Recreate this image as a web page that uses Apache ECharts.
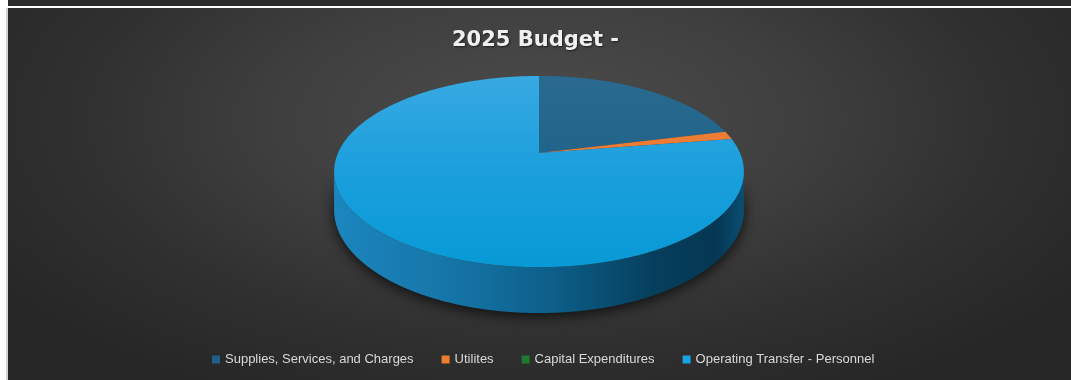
<!DOCTYPE html>
<html>
<head>
<meta charset="utf-8">
<title>2025 Budget</title>
<script src="https://cdn.jsdelivr.net/npm/echarts@6/dist/echarts.min.js"></script>
<style>
  html, body { margin: 0; padding: 0; background: #ffffff; }
  #wrap { position: relative; width: 1071px; height: 380px; overflow: hidden; background: #ffffff; }
  #strip { position: absolute; left: 8px; top: 0; width: 1063px; height: 6px; background: #2b2b2b; }
  #edge { position: absolute; left: 6px; top: 8px; width: 2px; height: 372px; background: #d4d4d4; }
  #panel {
    position: absolute; left: 8px; top: 8px; width: 1063px; height: 372px;
    background: radial-gradient(ellipse 62% 85% at 50% 30%, #4c4c4c 0%, #3f3f3f 40%, #303030 70%, #262626 100%);
  }
  #chart { position: absolute; left: 0; top: 0; width: 1071px; height: 380px; }
</style>
</head>
<body>
<div id="wrap">
  <div id="strip"></div>
  <div id="edge"></div>
  <div id="panel"></div>
  <div id="chart"></div>
</div>
<script>
// Budget categories and amounts for 2025
const categories = [
  'Supplies, Services, and Charges',
  'Utilites',
  'Capital Expenditures',
  'Operating Transfer - Personnel'
];
const budget2025 = [211000, 14000, 0, 775000];

// legend swatch colours per category
const swatchColors = ['#1f5f87', '#ed7d31', '#1e7a2d', '#1aa3e0'];

// ---- drawing styles (kept apart from the data) ----
const topFaceStops = [
  [{ offset: 0, color: '#2a6a91' }, { offset: 1, color: '#155a80' }],
  [{ offset: 0, color: '#ef7f38' }, { offset: 1, color: '#e8752c' }],
  [{ offset: 0, color: '#2e8a3a' }, { offset: 1, color: '#1e7a2d' }],
  [{ offset: 0, color: '#38a9e2' }, { offset: 0.5, color: '#1a9fdc' }, { offset: 1, color: '#089ad6' }]
];
const wallStops = [
  [{ offset: 0, color: '#153f5a' }, { offset: 1, color: '#0d3048' }],
  [{ offset: 0, color: '#a9541f' }, { offset: 1, color: '#8a4418' }],
  [{ offset: 0, color: '#155a20' }, { offset: 1, color: '#0f4818' }],
  [
    { offset: 0, color: '#1c86bf' },
    { offset: 0.3, color: '#1574a6' },
    { offset: 0.55, color: '#0c5c86' },
    { offset: 0.78, color: '#063f5d' },
    { offset: 0.93, color: '#053752' },
    { offset: 1, color: '#0b4e72' }
  ]
];

// tilted-disc projection: unit circle (u, v) -> screen, with perspective
const DISC = { A: 201, B: 92, p: 0.194, depth: 37 };
const PIE_CENTER = [539, 153];

const total = budget2025.reduce((s, v) => s + v, 0);
const cumStart = [];
let acc = 0;
budget2025.forEach(v => { cumStart.push(acc); acc += v; });

function makeRenderItem(idx) {
  return function (params, api) {
    const start = api.value(0);
    const end = api.value(1);
    if (!(end > start)) return { type: 'group', children: [] };
    const c0 = api.coord([0, 0]);
    const e0 = api.coord([1, 0]);
    const R = Math.hypot(e0[0] - c0[0], e0[1] - c0[1]);

    function unit(a) {
      const pt = api.coord([1, a]);
      return [(pt[0] - c0[0]) / R, (pt[1] - c0[1]) / R];
    }
    function proj(uv, drop) {
      const w = 1 - DISC.p * uv[1];
      return [c0[0] + DISC.A * uv[0] / w, c0[1] + (DISC.B * uv[1] + drop) / w];
    }

    const steps = Math.max(4, Math.ceil((end - start) / total * 360 * 4));
    const top = [[c0[0], c0[1]]];
    const wallTop = [];
    const wallBot = [];
    for (let i = 0; i <= steps; i++) {
      const a = start + (end - start) * i / steps;
      const uv = unit(a);
      top.push(proj(uv, 0));
      if (uv[1] >= DISC.p - 0.002) {
        wallTop.push(proj(uv, 0));
        wallBot.push(proj(uv, DISC.depth));
      }
    }

    const children = [];
    if (wallTop.length > 1) {
      children.push({
        type: 'polygon',
        z2: 1,
        shape: { points: wallTop.concat(wallBot.reverse()) },
        style: {
          fill: new echarts.graphic.LinearGradient(334, 0, 744, 0, wallStops[idx], true),
          shadowBlur: 14,
          shadowColor: 'rgba(0,0,0,0.75)',
          shadowOffsetY: 3
        }
      });
    }
    children.push({
      type: 'polygon',
      z2: 2,
      shape: { points: top },
      style: {
        fill: new echarts.graphic.LinearGradient(0, 76, 0, 268, topFaceStops[idx], true),
        stroke: null
      }
    });
    return { type: 'group', children: children };
  };
}

const chart = echarts.init(document.getElementById('chart'), null, { renderer: 'canvas' });

const series = categories.map((name, i) => ({
  name: name,
  type: 'custom',
  coordinateSystem: 'polar',
  color: swatchColors[i],
  itemStyle: { color: swatchColors[i] },
  silent: true,
  data: [[cumStart[i], cumStart[i] + budget2025[i]]],
  renderItem: makeRenderItem(i)
}));

chart.setOption({
  animation: false,
  backgroundColor: 'transparent',
  title: {
    text: '2025 Budget -',
    left: 'center',
    top: 25,
    textStyle: {
      color: '#f0f0f0',
      fontFamily: 'DejaVu Sans',
      fontWeight: 'bold',
      fontSize: 21,
      textShadowColor: 'rgba(0,0,0,0.55)',
      textShadowBlur: 2,
      textShadowOffsetX: 1,
      textShadowOffsetY: 1
    }
  },
  polar: { center: PIE_CENTER, radius: 100 },
  angleAxis: { type: 'value', min: 0, max: total, startAngle: 90, clockwise: true, show: false },
  radiusAxis: { type: 'value', min: 0, max: 1, show: false },
  legend: {
    data: categories,
    left: 212,
    top: 353,
    padding: 0,
    icon: 'rect',
    itemWidth: 8,
    itemHeight: 8,
    itemGap: 28,
    selectedMode: false,
    textStyle: { color: '#d9d9d9', fontFamily: 'Liberation Sans', fontSize: 13 }
  },
  series: series
});
</script>
</body>
</html>
